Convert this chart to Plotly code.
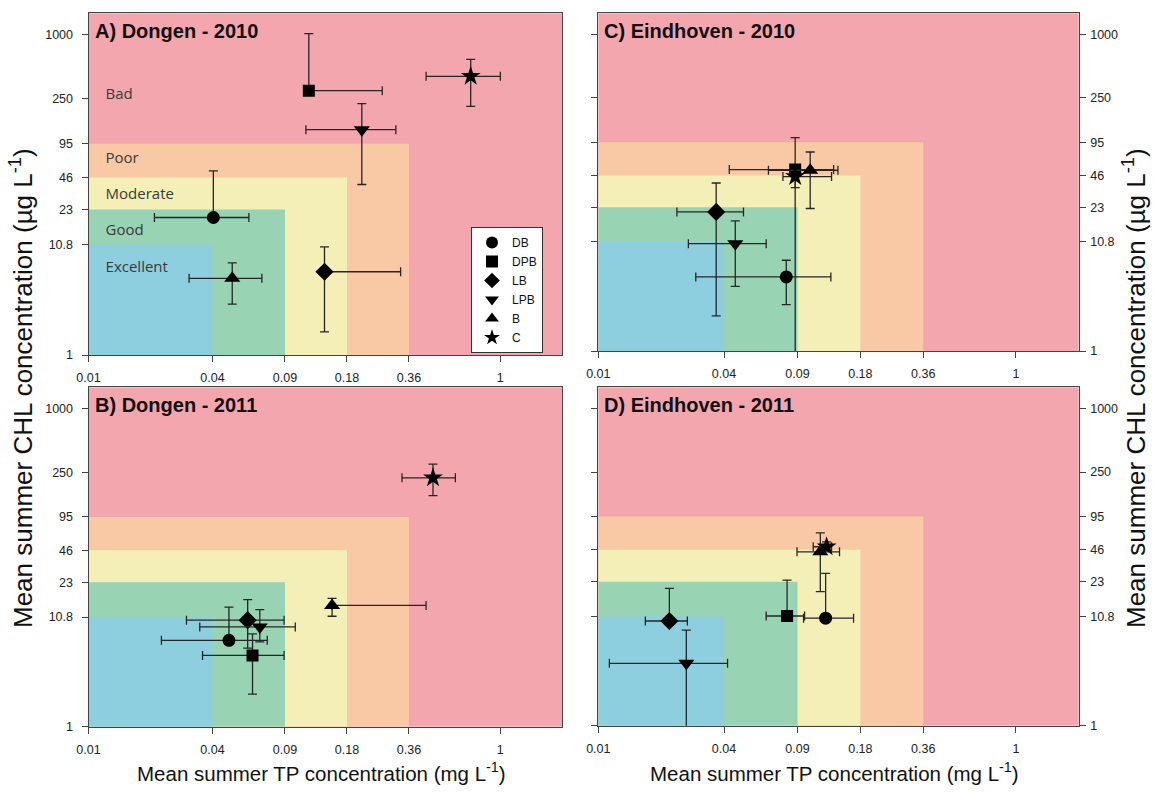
import plotly.graph_objects as go

# ---- data -------------------------------------------------------------
sites = ["DB", "DPB", "LB", "LPB", "B", "C"]
symbols = ["circle", "square", "diamond", "triangle-down", "triangle-up", "star"]
sizes = [13, 12, 14, 14, 14, 15]

# Panel A: Dongen 2010 (TP mg/L, CHL ug/L; lo/hi = ends of error bars)
a_tp = [0.0404, 0.1175, 0.140, 0.2125, 0.0499, 0.718]
a_tp_lo = [0.0209, 0.1175, 0.140, 0.1137, 0.0308, 0.436]
a_tp_hi = [0.0601, 0.267, 0.328, 0.311, 0.0695, 1.0]
a_chl = [19.4, 299, 6.02, 129, 5.22, 407]
a_chl_lo = [19.4, 299, 1.65, 39.5, 3.0, 213]
a_chl_hi = [53, 1021, 10.3, 226, 7.3, 587]

# Panel B: Dongen 2011
b_tp = [0.0481, 0.0626, 0.0593, 0.0679, 0.1524, 0.471]
b_tp_lo = [0.0226, 0.0358, 0.0299, 0.0347, 0.1524, 0.333]
b_tp_hi = [0.0738, 0.0891, 0.0891, 0.101, 0.436, 0.605]
b_chl = [6.52, 4.70, 10.1, 8.73, 13.9, 222]
b_chl_lo = [6.52, 2.03, 5.5, 6.3, 11.0, 151]
b_chl_hi = [13.4, 7.5, 15.8, 12.7, 16.2, 299]

# Panel C: Eindhoven 2010
c_tp = [0.0795, 0.0877, 0.0367, 0.0453, 0.1035, 0.0877]
c_tp_lo = [0.0293, 0.0424, 0.0238, 0.027, 0.0653, 0.0766]
c_tp_hi = [0.130, 0.134, 0.0496, 0.0637, 0.1406, 0.131]
c_chl = [5.03, 52.4, 20.8, 10.4, 51.6, 45]
c_chl_lo = [2.75, 0.4, 2.15, 4.1, 22.4, 35.4]
c_chl_hi = [7.24, 105, 39.1, 17.1, 76.9, 45]

# Panel D: Eindhoven 2011
d_tp = [0.1227, 0.0802, 0.0219, 0.0264, 0.1157, 0.124]
d_tp_lo = [0.0962, 0.0637, 0.0168, 0.0113, 0.0895, 0.107]
d_tp_hi = [0.167, 0.0973, 0.0267, 0.0416, 0.143, 0.131]
d_chl = [10.4, 10.9, 9.77, 3.89, 44.1, 49.2]
d_chl_lo = [10.4, 10.9, 9.77, 0.4, 18.5, 45]
d_chl_hi = [27.6, 23.8, 19.9, 8.03, 66.7, 54.8]

# Trophic class boundaries (TP, CHL) and zone colours, inner to outer
tp_bounds = [0.04, 0.09, 0.18, 0.36]
chl_bounds = [10.8, 23, 46, 95]
zone_colors = ["#8dcfdf", "#98d3b3", "#f3efb6", "#f9c9a6"]
bad_color = "#f4a6af"
class_names = ["Bad", "Poor", "Moderate", "Good", "Excellent"]
class_label_tp = 0.0121
class_label_chl = [273, 68, 31.3, 14.4, 6.55]

x_ticks = [0.01, 0.04, 0.09, 0.18, 0.36, 1]
x_ticktext = ["0.01", "0.04", "0.09", "0.18", "0.36", "1"]
y_ticks = [1, 10.8, 23, 46, 95, 250, 1000]
y_ticktext = ["1", "10.8", "23", "46", "95", "250", "1000"]

panels = [
    ("A) Dongen - 2010", a_tp, a_tp_lo, a_tp_hi, a_chl, a_chl_lo, a_chl_hi),
    ("B) Dongen - 2011", b_tp, b_tp_lo, b_tp_hi, b_chl, b_chl_lo, b_chl_hi),
    ("C) Eindhoven - 2010", c_tp, c_tp_lo, c_tp_hi, c_chl, c_chl_lo, c_chl_hi),
    ("D) Eindhoven - 2011", d_tp, d_tp_lo, d_tp_hi, d_chl, d_chl_lo, d_chl_hi),
]

# ---- layout geometry ---------------------------------------------------
W, H = 1155, 793
FONT = "Liberation Sans, Arial, sans-serif"
x_dom = [[88.5 / W, 562.3 / W], [88.5 / W, 562.3 / W],
         [598.3 / W, 1078.7 / W], [598.3 / W, 1078.7 / W]]
y_dom = [[1 - 355 / H, 1 - 13.3 / H], [1 - 726.7 / H, 1 - 387.3 / H],
         [1 - 351 / H, 1 - 13.3 / H], [1 - 725.7 / H, 1 - 387.3 / H]]
x_min, x_max = 0.01, 2.0
y_min, y_max = 1, 1585

fig = go.Figure()
ERR_COLOR = "#262626"

for p, (title, tp, tp_lo, tp_hi, chl, chl_lo, chl_hi) in enumerate(panels):
    xa = "x" if p == 0 else f"x{p + 1}"
    ya = "y" if p == 0 else f"y{p + 1}"

    # nested class zones, drawn outermost first
    for k in range(len(tp_bounds) - 1, -1, -1):
        xb, yb = tp_bounds[k], chl_bounds[k]
        fig.add_trace(go.Scatter(
            x=[x_min, xb, xb, x_min, x_min], y=[y_min, y_min, yb, yb, y_min],
            mode="lines", fill="toself", fillcolor=zone_colors[k],
            line=dict(width=0), hoverinfo="skip", showlegend=False,
            xaxis=xa, yaxis=ya))

    if p == 0:
        fig.add_trace(go.Scatter(
            x=[class_label_tp] * len(class_names), y=class_label_chl,
            mode="text", text=class_names, textposition="middle right",
            textfont=dict(family="Open Sans, sans-serif", size=15, color="#3a3a3a"),
            hoverinfo="skip", showlegend=False, xaxis=xa, yaxis=ya))

    for i, site in enumerate(sites):
        fig.add_trace(go.Scatter(
            x=[tp[i]], y=[chl[i]], mode="markers", name=site,
            legendgroup=site, showlegend=(p == 0),
            marker=dict(symbol=symbols[i], size=sizes[i], color="black",
                        line=dict(width=0)),
            error_x=dict(type="data", symmetric=False,
                         array=[tp_hi[i] - tp[i]], arrayminus=[tp[i] - tp_lo[i]],
                         color=ERR_COLOR, thickness=1.3, width=4.5),
            error_y=dict(type="data", symmetric=False,
                         array=[chl_hi[i] - chl[i]], arrayminus=[chl[i] - chl_lo[i]],
                         color=ERR_COLOR, thickness=1.3, width=4.5),
            xaxis=xa, yaxis=ya))

    right = p >= 2
    ax_common = dict(type="log", showgrid=False, zeroline=False, automargin=False,
                     showline=True, linecolor="#444", linewidth=1,
                     ticks="outside", ticklen=6, tickcolor="#444",
                     tickfont=dict(family=FONT, size=12.5, color="#222"))
    fig.layout[f"xaxis{'' if p == 0 else p + 1}"] = dict(
        ax_common, domain=x_dom[p], anchor=ya,
        range=[-2, 0.30103], tickvals=x_ticks, ticktext=x_ticktext,
        mirror=True, ticklabelstandoff=5)
    fig.layout[f"yaxis{'' if p == 0 else p + 1}"] = dict(
        ax_common, domain=y_dom[p], anchor=xa,
        range=[0, 3.2], tickvals=y_ticks, ticktext=y_ticktext,
        side="right" if right else "left",
        mirror="ticks" if right else True,
        ticklabelstandoff=2 if right else 6)

    fig.add_annotation(
        text=f"<b>{title}</b>", xref="paper", yref="paper",
        x=(x_dom[p][0] * W + 4) / W,
        y=y_dom[p][1] - 17.5 / H,
        xanchor="left", yanchor="middle", showarrow=False,
        font=dict(family=FONT, size=20, color="#111"))

# axis titles
y_title = "Mean summer CHL concentration (µg L<sup>-1</sup>)"
x_title = "Mean summer TP concentration (mg L<sup>-1</sup>)"
for xpx in (21, 1134):
    fig.add_annotation(text=y_title, xref="paper", yref="paper",
                       x=xpx / W, y=1 - 388 / H, textangle=-90,
                       xanchor="center", yanchor="middle", showarrow=False,
                       font=dict(family=FONT, size=26, color="#111"))
for xpx in (321, 835):
    fig.add_annotation(text=x_title, xref="paper", yref="paper",
                       x=xpx / W, y=1 - 772 / H,
                       xanchor="center", yanchor="middle", showarrow=False,
                       font=dict(family=FONT, size=20.5, color="#111"))

fig.update_layout(
    width=W, height=H, margin=dict(l=0, r=0, t=0, b=0),
    paper_bgcolor="white", plot_bgcolor=bad_color,
    showlegend=True,
    legend=dict(x=471 / W, y=1 - 227 / H, xanchor="left", yanchor="top",
                bgcolor="white", bordercolor="#333", borderwidth=1,
                font=dict(family=FONT, size=12, color="#111"),
                tracegroupgap=0, itemsizing="constant", entrywidth=40),
)

fig.write_html("out.html")
